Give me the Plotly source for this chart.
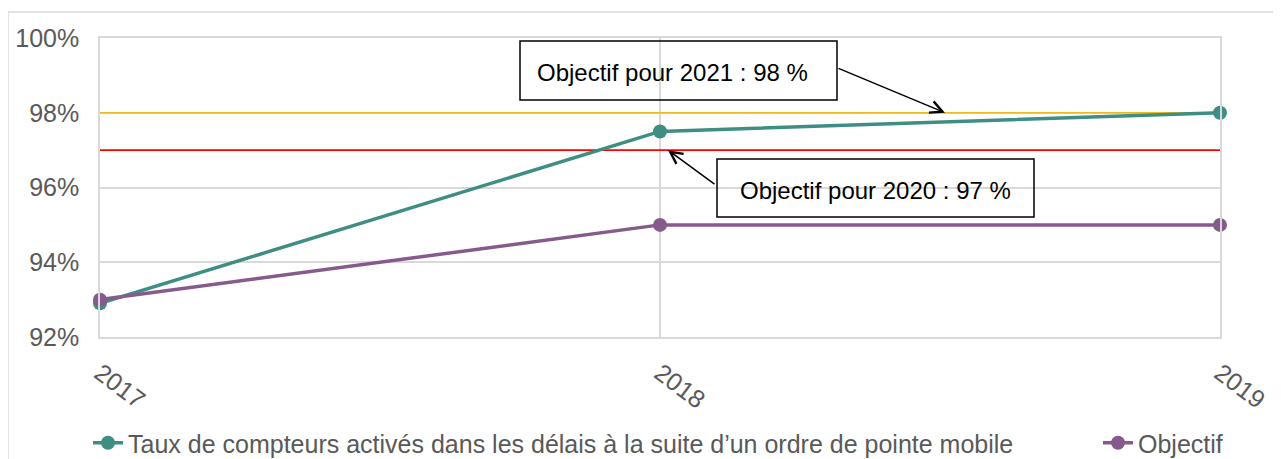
import plotly.graph_objects as go

years = [2017, 2018, 2019]
taux = [92.9, 97.5, 98.0]
objectif = [93.0, 95.0, 95.0]
obj_2021 = [98.0, 98.0, 98.0]
obj_2020 = [97.0, 97.0, 97.0]
y_ticks = [92, 94, 96, 98, 100]
y_labels = ["92%", "94%", "96%", "98%", "100%"]
x_labels = ["2017", "2018", "2019"]

name_taux = "Taux de compteurs activés dans les délais à la suite d’un ordre de pointe mobile"
name_obj = "Objectif"
ann_2021 = "Objectif pour 2021 : 98 %"
ann_2020 = "Objectif pour 2020 : 97 %"

TEAL = "#3E8E84"
PURPLE = "#875A8D"
FONT = "Liberation Sans, Arial, sans-serif"

OFF = 8  # page body margin
W, H = 1281 - OFF, 459 - OFF
L, R, T, B = 100 - OFF, 61, 38 - OFF, 122
PW, PH = W - L - R, H - T - B

def px(sx):
    return (sx - OFF - L) / PW

def py(sy):
    return (H - B - (sy - OFF)) / PH

fig = go.Figure()
fig.add_trace(go.Scatter(x=years, y=obj_2021, mode="lines", line=dict(color="#F2B81F", width=1.6),
                         showlegend=False, hoverinfo="skip", cliponaxis=False))
fig.add_trace(go.Scatter(x=years, y=obj_2020, mode="lines", line=dict(color="#FF0000", width=1.6),
                         showlegend=False, hoverinfo="skip", cliponaxis=False))
fig.add_trace(go.Scatter(x=years, y=taux, mode="lines+markers", name=name_taux,
                         line=dict(color=TEAL, width=3.5), marker=dict(size=14, color=TEAL),
                         cliponaxis=False, legend="legend"))
fig.add_trace(go.Scatter(x=years, y=objectif, mode="lines+markers", name=name_obj,
                         line=dict(color=PURPLE, width=3.5), marker=dict(size=14, color=PURPLE),
                         cliponaxis=False, legend="legend2"))

legend_common = dict(orientation="h", xanchor="left", y=py(443), yanchor="middle",
                     font=dict(size=25, color="#595959"), bgcolor="rgba(0,0,0,0)")

fig.update_layout(
    width=W, height=H,
    margin=dict(l=L, r=R, t=T, b=B, autoexpand=False),
    paper_bgcolor="white", plot_bgcolor="white",
    font=dict(family=FONT, size=24, color="#595959"),
    xaxis=dict(range=[2017, 2019], tickvals=years, ticktext=x_labels, tickangle=37,
               showgrid=True, gridcolor="#D9D9D9", gridwidth=1.5, zeroline=False,
               showline=True, linecolor="#D9D9D9", linewidth=1.5, mirror=True, automargin=False,
               ticks="", ticklabelstandoff=10, tickfont=dict(size=25, color="#595959")),
    yaxis=dict(range=[92, 100], tickvals=y_ticks, ticktext=y_labels,
               showgrid=True, gridcolor="#D9D9D9", gridwidth=1.5, zeroline=False,
               showline=True, linecolor="#D9D9D9", linewidth=1.5, mirror=True, automargin=False,
               ticks="", ticklabelstandoff=14, tickfont=dict(size=25, color="#595959")),
    legend=dict(x=px(88), **legend_common),
    legend2=dict(x=px(1098), **legend_common),
    showlegend=True,
)

# outer chart border
fig.add_shape(type="rect", xref="paper", yref="paper", x0=px(8), x1=px(1300), y0=py(480), y1=py(12),
              line=dict(color="#D9D9D9", width=1.5), layer="below")

# text boxes
fig.add_shape(type="rect", xref="paper", yref="paper", x0=px(520), x1=px(837), y0=py(100), y1=py(41),
              line=dict(color="black", width=1.5))
fig.add_shape(type="rect", xref="paper", yref="paper", x0=px(717), x1=px(1034), y0=py(217), y1=py(159),
              line=dict(color="black", width=1.5))
fig.add_annotation(xref="paper", yref="paper", x=px(672), y=py(72), text=ann_2021, showarrow=False,
                   font=dict(size=24, color="black"), xanchor="center", yanchor="middle")
fig.add_annotation(xref="paper", yref="paper", x=px(875), y=py(190), text=ann_2020, showarrow=False,
                   font=dict(size=24, color="black"), xanchor="center", yanchor="middle")

# arrows
fig.add_annotation(x=2018 + (945 - 660) / 560, y=obj_2021[2], xref="x", yref="y", text="",
                   showarrow=True, ax=837 - 945, ay=68 - 113, axref="pixel", ayref="pixel",
                   arrowhead=5, arrowsize=1.6, arrowwidth=1.5, arrowcolor="black", standoff=0)
fig.add_annotation(x=2018 + (668 - 660) / 560, y=obj_2020[1], xref="x", yref="y", text="",
                   showarrow=True, ax=716 - 668, ay=185 - 150, axref="pixel", ayref="pixel",
                   arrowhead=5, arrowsize=1.6, arrowwidth=1.5, arrowcolor="black", standoff=0)

fig.write_html("out.html")
